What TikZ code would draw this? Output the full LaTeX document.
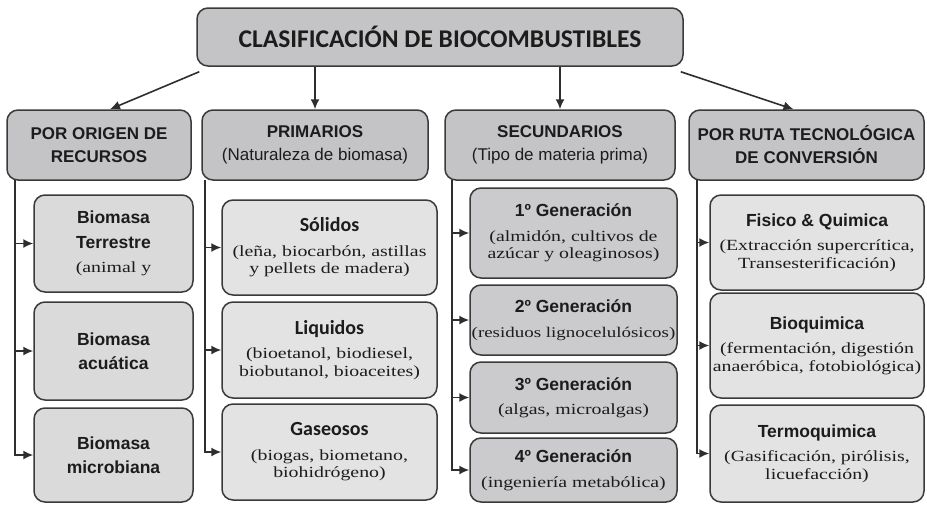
\documentclass[tikz,border=0pt]{standalone}
\usepackage{fontspec}
\setmainfont{Liberation Serif}
\newfontfamily\arl{Liberation Sans}
\newfontfamily\calfont{Carlito}
\newfontfamily\serw{Liberation Serif}[FakeStretch=1.28]
\usetikzlibrary{arrows.meta}
\definecolor{bordc}{HTML}{3A3A3A}
\definecolor{hdfill}{HTML}{C4C4C6}
\definecolor{lafill}{HTML}{DADADA}
\definecolor{lbfill}{HTML}{E3E3E3}
\definecolor{lcfill}{HTML}{CBCBCE}
\definecolor{txtc}{HTML}{1C1C1C}
\definecolor{linec}{HTML}{2E2E2E}
\newcommand{\tb}{\arl\bfseries\fontsize{17.5}{17.5}\selectfont}
\newcommand{\tc}{\calfont\bfseries\fontsize{20}{20}\selectfont}
\tikzset{
  box/.style={draw=bordc, line width=1.5pt, rounded corners=11pt, align=center, inner sep=0pt, text=txtc},
  hd/.style={box, fill=hdfill, font=\arl\bfseries\fontsize{17}{23}\selectfont},
  ttl/.style={box, fill=hdfill, font=\calfont\bfseries\fontsize{25.5}{25.5}\selectfont},
  la/.style={box, fill=lafill, font=\serw\fontsize{15.5}{17.5}\selectfont},
  lb/.style={box, fill=lbfill, font=\serw\fontsize{15.5}{17.5}\selectfont},
  lc/.style={box, fill=lcfill, font=\serw\fontsize{15.5}{17.5}\selectfont},
  conn/.style={draw=linec, line width=1.6pt, -{Latex[length=10pt,width=9pt]}}
}
\begin{document}
\begin{tikzpicture}[x=1pt,y=-1pt]
\useasboundingbox (0,0) rectangle (927,504);
% title
\node[ttl, minimum width=486pt, minimum height=58pt] (T) at (440,37) {CLASIFICACIÓN DE BIOCOMBUSTIBLES};
% level 2
\node[hd, minimum width=184pt, minimum height=70pt] (A) at (99,145) {POR ORIGEN DE\\RECURSOS};
\node[hd, minimum width=226pt, minimum height=70pt] (B) at (315,145) {PRIMARIOS\\{\mdseries (Naturaleza de biomasa)}};
\node[hd, minimum width=230pt, minimum height=70pt] (C) at (560,145) {SECUNDARIOS\\{\mdseries (Tipo de materia prima)}};
\node[hd, minimum width=235pt, minimum height=70pt] (D) at (806.5,145) {POR RUTA TECNOLÓGICA\\DE CONVERSIÓN};
% column A
\node[la, minimum width=159pt, minimum height=97pt] (A1) at (113.5,243.5) {{\tb Biomasa}\\[7pt]{\tb Terrestre}\\[7pt](animal y};
\node[la, minimum width=159pt, minimum height=98pt] (A2) at (113.5,351) {{\tb Biomasa}\\[7pt]{\tb acuática}};
\node[la, minimum width=159pt, minimum height=94pt] (A3) at (113.5,455) {{\tb Biomasa}\\[7pt]{\tb microbiana}};
% column B
\node[lb, minimum width=215pt, minimum height=95pt] (B1) at (329.5,247.5) {{\tc Sólidos}\\[7pt](leña, biocarbón, astillas\\y pellets de madera)};
\node[lb, minimum width=215pt, minimum height=96pt] (B2) at (329.5,350) {{\tc Liquidos}\\[7pt](bioetanol, biodiesel,\\biobutanol, bioaceites)};
\node[lb, minimum width=215pt, minimum height=96pt] (B3) at (329.5,452) {{\tc Gaseosos}\\[7pt](biogas, biometano,\\biohidrógeno)};
% column C
\node[lc, minimum width=207pt, minimum height=90pt] (C1) at (573.5,233) {{\tb 1º Generación}\\[7pt](almidón, cultivos de\\azúcar y oleaginosos)};
\node[lc, minimum width=207pt, minimum height=70pt] (C2) at (573.5,320) {{\tb 2º Generación}\\[7pt]{\fontsize{14.8}{17.5}\selectfont (residuos lignocelulósicos)}};
\node[lc, minimum width=207pt, minimum height=71pt] (C3) at (573.5,397.5) {{\tb 3º Generación}\\[7pt](algas, microalgas)};
\node[lc, minimum width=207pt, minimum height=64pt] (C4) at (573.5,470) {{\tb 4º Generación}\\[7pt](ingeniería metabólica)};
% column D
\node[lb, minimum width=214pt, minimum height=95pt] (D1) at (817,242.5) {{\tb Fisico \& Quimica}\\[7pt](Extracción supercrítica,\\Transesterificación)};
\node[lb, minimum width=214pt, minimum height=105pt] (D2) at (817,345.5) {{\tb Bioquimica}\\[7pt](fermentación, digestión\\anaeróbica, fotobiológica)};
\node[lb, minimum width=214pt, minimum height=97pt] (D3) at (817,453.5) {{\tb Termoquimica}\\[7pt](Gasificación, pirólisis,\\licuefacción)};
% connectors from title
\draw[conn] ([xshift=3pt,yshift=-5pt]T.south west) -- ([xshift=11pt]A.north);
\draw[conn] (T.south -| B.north) -- (B.north);
\draw[conn] (T.south -| C.north) -- (C.north);
\draw[conn] ([xshift=-3pt,yshift=-5pt]T.south east) -- ([xshift=-13pt]D.north);
% column trunks
\coordinate (ca) at (15,180);
\coordinate (cb) at (205,180);
\coordinate (cc) at (452,180);
\coordinate (cd) at (697,180);
\foreach \n in {A1,A2,A3} \draw[conn] (ca) |- (\n.west);
\foreach \n in {B1,B2,B3} \draw[conn] (cb) |- (\n.west);
\foreach \n in {C1,C2,C3,C4} \draw[conn] (cc) |- (\n.west);
\foreach \n in {D1,D2,D3} \draw[conn] (cd) |- (\n.west);
\end{tikzpicture}
\end{document}
